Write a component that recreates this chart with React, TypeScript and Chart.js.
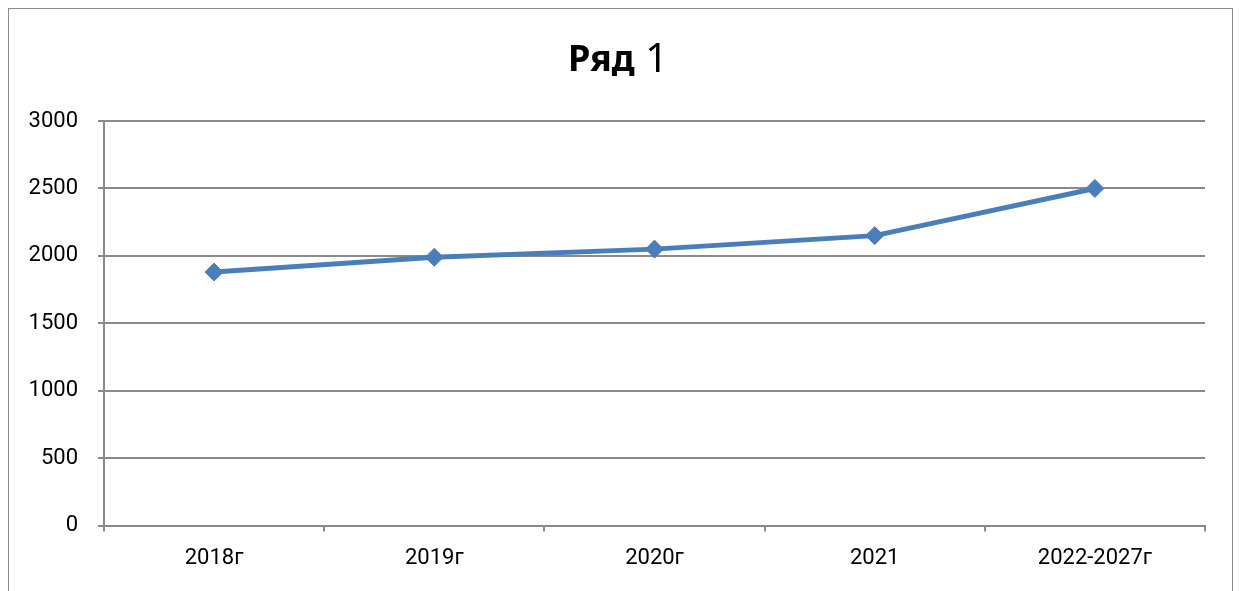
import React, { useEffect, useRef } from "react";
import { Chart, registerables } from "chart.js";

Chart.register(...registerables);

const categories = ["2018г", "2019г", "2020г", "2021", "2022-2027г"];
const seriesValues = [1880, 1990, 2050, 2150, 2500];
const yTicks = [0, 500, 1000, 1500, 2000, 2500, 3000];
const titleBold = "Ряд";
const titleRest = " 1";

const GRID = "#8a8a8a";
const LINE = "#4a7ebb";

const titlePlugin = {
  id: "mixedTitle",
  afterDraw(chart: any) {
    const ctx = chart.ctx;
    ctx.save();
    const boldFont = "bold 36px 'Noto Sans'";
    const normFont = "normal 40px 'Noto Sans'";
    ctx.font = boldFont;
    const w1 = ctx.measureText(titleBold).width;
    ctx.font = normFont;
    const w2 = ctx.measureText(titleRest).width;
    const total = w1 + w2;
    const cx = 609;
    const y = 52;
    const x0 = cx - total / 2;
    ctx.fillStyle = "#000";
    ctx.textBaseline = "middle";
    ctx.textAlign = "left";
    ctx.font = boldFont;
    ctx.fillText(titleBold, x0, y);
    ctx.font = normFont;
    ctx.fillText(titleRest, x0 + w1, y);
    ctx.restore();
  },
};

export default function App() {
  const ref = useRef<HTMLCanvasElement | null>(null);
  useEffect(() => {
    if (!ref.current) return;
    const chart = new Chart(ref.current, {
      type: "line",
      data: {
        labels: categories,
        datasets: [
          {
            label: "Ряд 1",
            data: seriesValues,
            borderColor: LINE,
            backgroundColor: LINE,
            borderWidth: 5,
            pointStyle: "rectRot",
            pointRadius: 9,
            pointBorderWidth: 1,
            pointBackgroundColor: LINE,
            pointBorderColor: LINE,
            tension: 0,
          },
        ],
      },
      options: {
        responsive: false,
        animation: false,
        layout: { padding: { top: 112, right: 27, bottom: 23, left: 0 } },
        plugins: {
          legend: { display: false },
          title: { display: false },
          tooltip: { enabled: false },
        },
        scales: {
          x: {
            type: "category",
            offset: true,
            grid: {
              offset: true,
              drawOnChartArea: false,
              drawTicks: true,
              tickLength: 6,
              color: GRID,
              lineWidth: 2,
            },
            border: { display: true, color: GRID, width: 2 },
            ticks: {
              color: "#000",
              padding: 14,
              font: { family: "Roboto", size: 22 },
              maxRotation: 0,
            },
          },
          y: {
            min: 0,
            max: 3000,
            afterFit: (scale: any) => {
              scale.width = 95;
            },
            afterBuildTicks: (scale: any) => {
              scale.ticks = yTicks.map((v) => ({ value: v }));
            },
            grid: {
              color: GRID,
              lineWidth: 2,
              drawTicks: true,
              tickLength: 6,
            },
            border: { display: true, color: GRID, width: 2 },
            ticks: {
              color: "#000",
              padding: 20,
              font: { family: "Roboto", size: 22 },
              callback: (v: any) => String(v),
            },
          },
        },
      },
      plugins: [titlePlugin],
    });
    return () => chart.destroy();
  }, []);

  return (
    <div
      style={{
        position: "fixed",
        left: 8,
        top: 8,
        width: 1223,
        height: 620,
        borderLeft: "1px solid #8c8c8c",
        borderTop: "1px solid #8c8c8c",
        borderRight: "1px solid #8c8c8c",
        background: "#fff",
      }}
    >
      <canvas ref={ref} width={1223} height={600} style={{ display: "block" }} />
    </div>
  );
}
